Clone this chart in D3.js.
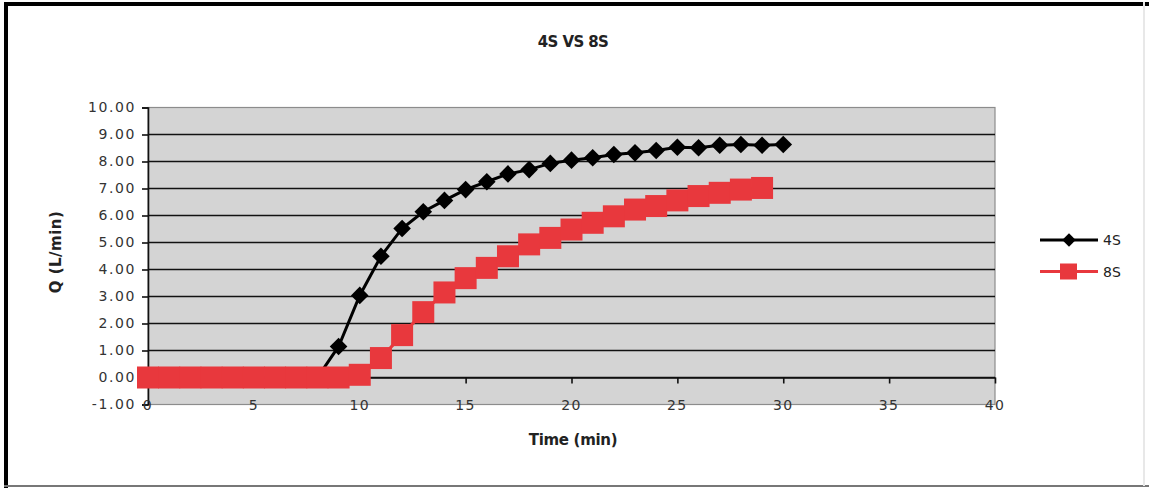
<!DOCTYPE html>
<html>
<head>
<meta charset="utf-8">
<script src="https://cdn.jsdelivr.net/npm/d3@7"></script>
<style>
  html, body { margin: 0; padding: 0; background: #fff; }
  svg { display: block; }
  text { font-family: Verdana, "DejaVu Sans", sans-serif; }
</style>
</head>
<body>
<svg id="chart" width="1149" height="488"></svg>
<script>
// Flow rate over time for the two runs
const time4S = d3.range(0, 31);
const q4S = [0, 0, 0, 0, 0, 0, 0, 0, 0, 1.15, 3.04, 4.49, 5.52, 6.14, 6.56, 6.96, 7.25, 7.54, 7.70, 7.93,
             8.05, 8.14, 8.26, 8.32, 8.41, 8.53, 8.51, 8.60, 8.63, 8.60, 8.63];
const time8S = d3.range(0, 30);
const q8S = [0, 0, 0, 0, 0, 0, 0, 0, 0, 0, 0.10, 0.72, 1.57, 2.42, 3.15, 3.68, 4.06, 4.49, 4.93, 5.17,
             5.48, 5.73, 5.97, 6.22, 6.35, 6.56, 6.72, 6.84, 6.96, 7.02];
const seriesNames = ["4S", "8S"];
const xTicks = [0, 5, 10, 15, 20, 25, 30, 35, 40];
const yTicks = [-1, 0, 1, 2, 3, 4, 5, 6, 7, 8, 9, 10];

const svg = d3.select("#chart");
const W = 1149, H = 488;

// outer frame
svg.append("rect").attr("x", 0).attr("y", 0).attr("width", W).attr("height", H).attr("fill", "#fff");
svg.append("rect").attr("x", 4).attr("y", 2).attr("width", W - 4).attr("height", 4).attr("fill", "#000");
svg.append("rect").attr("x", 4).attr("y", 2).attr("width", 4).attr("height", H - 2).attr("fill", "#000");
svg.append("rect").attr("x", 4).attr("y", H - 3).attr("width", W - 4).attr("height", 2).attr("fill", "#777");
svg.append("rect").attr("x", W - 6).attr("y", 2).attr("width", 2).attr("height", H - 4).attr("fill", "#e8e8e8");

const plotLeft = 148, plotRight = 995, plotTop = 107.5, plotBottom = 404.5;
const x = d3.scaleLinear().domain([0, 40]).range([plotLeft, plotRight]);
const y = d3.scaleLinear().domain([-1, 10]).range([plotBottom, plotTop]);

// plot area
svg.append("rect")
  .attr("x", plotLeft).attr("y", plotTop)
  .attr("width", plotRight - plotLeft).attr("height", plotBottom - plotTop)
  .attr("fill", "#d4d4d4").attr("stroke", "#8c8c8c").attr("stroke-width", 1.2);

// horizontal gridlines
svg.append("g").selectAll("line")
  .data(yTicks.filter(v => v > -1 && v < 10))
  .join("line")
  .attr("x1", plotLeft).attr("x2", plotRight)
  .attr("y1", d => y(d)).attr("y2", d => y(d))
  .attr("stroke", "#111").attr("stroke-width", 1.6);

// y axis
const fmt2 = d => d3.format(".2f")(d).replace("\u2212", "-");
const yAxis = d3.axisLeft(y).tickValues(yTicks).tickFormat(fmt2).tickSize(6).tickPadding(6);
const gy = svg.append("g").attr("transform", `translate(${plotLeft},0)`).call(yAxis);
gy.select(".domain").attr("stroke", "#111").attr("stroke-width", 1.6);
gy.selectAll(".tick line").attr("stroke", "#111").attr("stroke-width", 1.6);
gy.selectAll(".tick text")
  .attr("font-size", 14).attr("fill", "#333")
  .style("letter-spacing", "1.6px");

// x axis crossing at zero, labels sit at the bottom edge
const xAxis = d3.axisBottom(x).tickValues(xTicks).tickSize(6).tickSizeOuter(0).tickFormat("");
const gx = svg.append("g").attr("transform", `translate(0,${y(0)})`).call(xAxis);
gx.select(".domain").attr("stroke", "#111").attr("stroke-width", 1.6);
gx.selectAll(".tick line").attr("stroke", "#111").attr("stroke-width", 1.6);

svg.append("g").selectAll("text")
  .data(xTicks)
  .join("text")
  .attr("x", d => x(d)).attr("y", plotBottom + 5)
  .attr("text-anchor", "middle")
  .attr("font-size", 14).attr("fill", "#333")
  .style("letter-spacing", "1.4px")
  .text(d => d);

const line = d3.line().x(d => x(d[0])).y(d => y(d[1]));
const pts4S = time4S.map((t, i) => [t, q4S[i]]);
const pts8S = time8S.map((t, i) => [t, q8S[i]]);

// series 4S: black line with diamonds
svg.append("path").datum(pts4S)
  .attr("d", line).attr("fill", "none").attr("stroke", "#000").attr("stroke-width", 3);
svg.append("g").selectAll("path")
  .data(pts4S)
  .join("path")
  .attr("d", d3.symbol().type(d3.symbolSquare).size(155))
  .attr("transform", d => `translate(${x(d[0])},${y(d[1])}) rotate(45)`)
  .attr("fill", "#000");

// series 8S: red line with squares
const red = "#e8383d";
svg.append("path").datum(pts8S)
  .attr("d", line).attr("fill", "none").attr("stroke", red).attr("stroke-width", 3);
svg.append("g").selectAll("rect")
  .data(pts8S)
  .join("rect")
  .attr("x", d => x(d[0]) - 11).attr("y", d => y(d[1]) - 11)
  .attr("width", 22).attr("height", 22)
  .attr("fill", red);

// title and axis titles
svg.append("text").attr("x", 573).attr("y", 47).attr("text-anchor", "middle")
  .attr("font-size", 15).attr("font-weight", "bold").attr("fill", "#222")
  .style("letter-spacing", "-0.6px")
  .text("4S VS 8S");
svg.append("text").attr("x", 573).attr("y", 445).attr("text-anchor", "middle")
  .attr("font-size", 15).attr("font-weight", "bold").attr("fill", "#222")
  .style("letter-spacing", "-0.3px")
  .text("Time (min)");
svg.append("text")
  .attr("transform", `translate(61,252) rotate(-90)`)
  .attr("text-anchor", "middle")
  .attr("font-size", 15).attr("font-weight", "bold").attr("fill", "#222")
  .style("letter-spacing", "0.5px")
  .text("Q (L/min)");

// legend
const legend = svg.append("g");
const legendRows = [
  { name: seriesNames[0], color: "#000", ly: 240, marker: "diamond" },
  { name: seriesNames[1], color: red, ly: 271.5, marker: "square" }
];
legendRows.forEach(r => {
  legend.append("line").attr("x1", 1040).attr("x2", 1098).attr("y1", r.ly).attr("y2", r.ly)
    .attr("stroke", r.color).attr("stroke-width", 3);
  if (r.marker === "diamond") {
    legend.append("path")
      .attr("d", d3.symbol().type(d3.symbolSquare).size(90))
      .attr("transform", `translate(1069,${r.ly}) rotate(45)`)
      .attr("fill", r.color);
  } else {
    legend.append("rect").attr("x", 1060).attr("y", r.ly - 8).attr("width", 17).attr("height", 16)
      .attr("fill", r.color);
  }
  legend.append("text").attr("x", 1103).attr("y", r.ly + 5)
    .attr("font-size", 14).attr("fill", "#222")
    .text(r.name);
});
</script>
</body>
</html>
